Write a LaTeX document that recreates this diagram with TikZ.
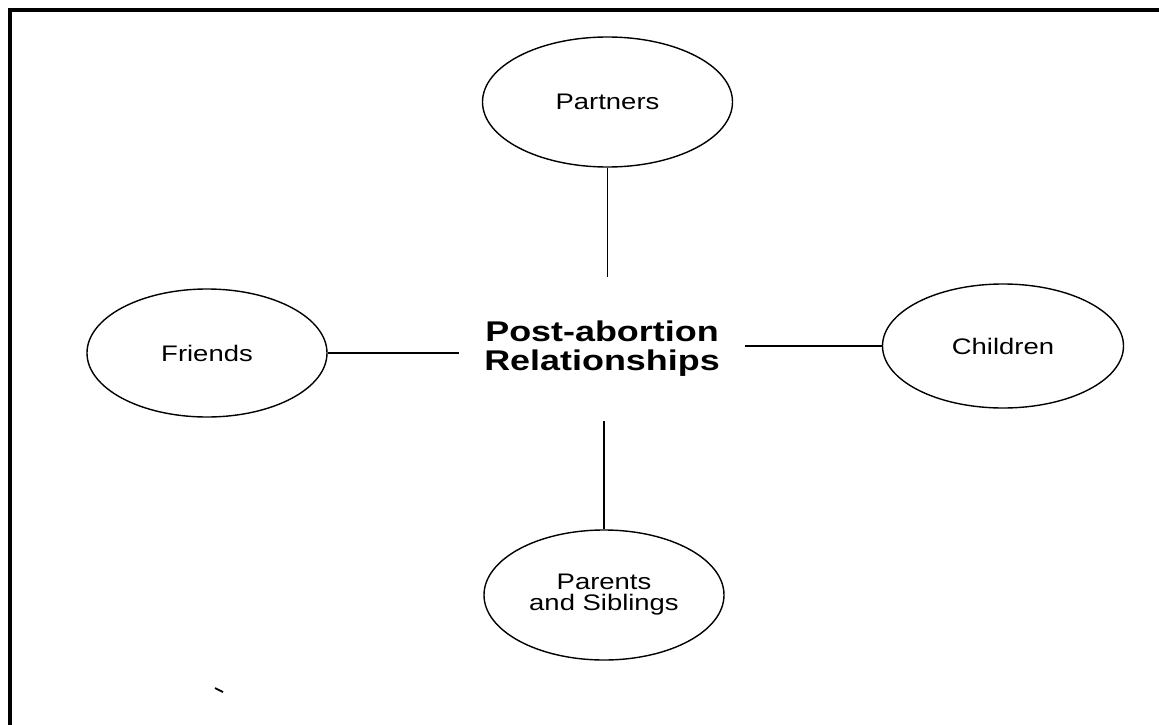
\documentclass[tikz,border=0pt]{standalone}
\usepackage{fontspec}
\usepackage{graphicx}
\setmainfont{Liberation Sans}
\usetikzlibrary{shapes.geometric}
\newcommand\widetxt[1]{\scalebox{1.22}[1]{#1}}
\newcommand\widebold[1]{\scalebox{1.26}[1]{#1}}
\tikzset{
  bubble/.style={draw, ellipse, line width=1.4pt, inner sep=0pt,
    font=\fontsize{22.5}{21}\selectfont, align=center},
  link/.style={line width=1.5pt},
  hubtext/.style={inner sep=0pt, align=center,
    font=\fontsize{28.5}{29}\selectfont\bfseries},
  frameline/.style={line width=4pt}
}
\begin{document}
\begin{tikzpicture}[x=1pt,y=-1pt]
\useasboundingbox (0,0) rectangle (1159,725);
% frame (open at right and bottom)
\coordinate (fa) at (1159,10);
\coordinate (fb) at (8,10);
\coordinate (fc) at (10,8);
\coordinate (fd) at (10,725);
\draw[frameline] (fb) -- (fa);
\draw[frameline] (fc) -- (fd);
% hub
\node[hubtext, minimum width=285pt, minimum height=143pt] (hub) at (602,349)
  {\widebold{Post-abortion}\\\widebold{Relationships}};
% bubbles
\node[bubble, minimum width=250pt, minimum height=130pt] (partners) at (607.5,102) {\widetxt{Partners}};
\node[bubble, minimum width=240pt, minimum height=128pt] (friends) at (207,353) {\widetxt{Friends}};
\node[bubble, minimum width=241pt, minimum height=124pt] (children) at (1003,346) {\widetxt{Children}};
\node[bubble, minimum width=240pt, minimum height=130pt] (parents) at (604,595) {\widetxt{Parents}\\\widetxt{and Siblings}};
% connectors
\draw[link] (partners.south) -- (partners.south |- hub.north);
\draw[link] (parents.north) -- (parents.north |- hub.south);
\draw[link] (friends.east) -- (friends.east -| hub.west);
\draw[link] (children.west) -- (children.west -| hub.east);
% small stray mark
\coordinate (ma) at (215,688);
\coordinate (mb) at (223,692);
\draw[line width=1.8pt] (ma) -- (mb);
\end{tikzpicture}
\end{document}
